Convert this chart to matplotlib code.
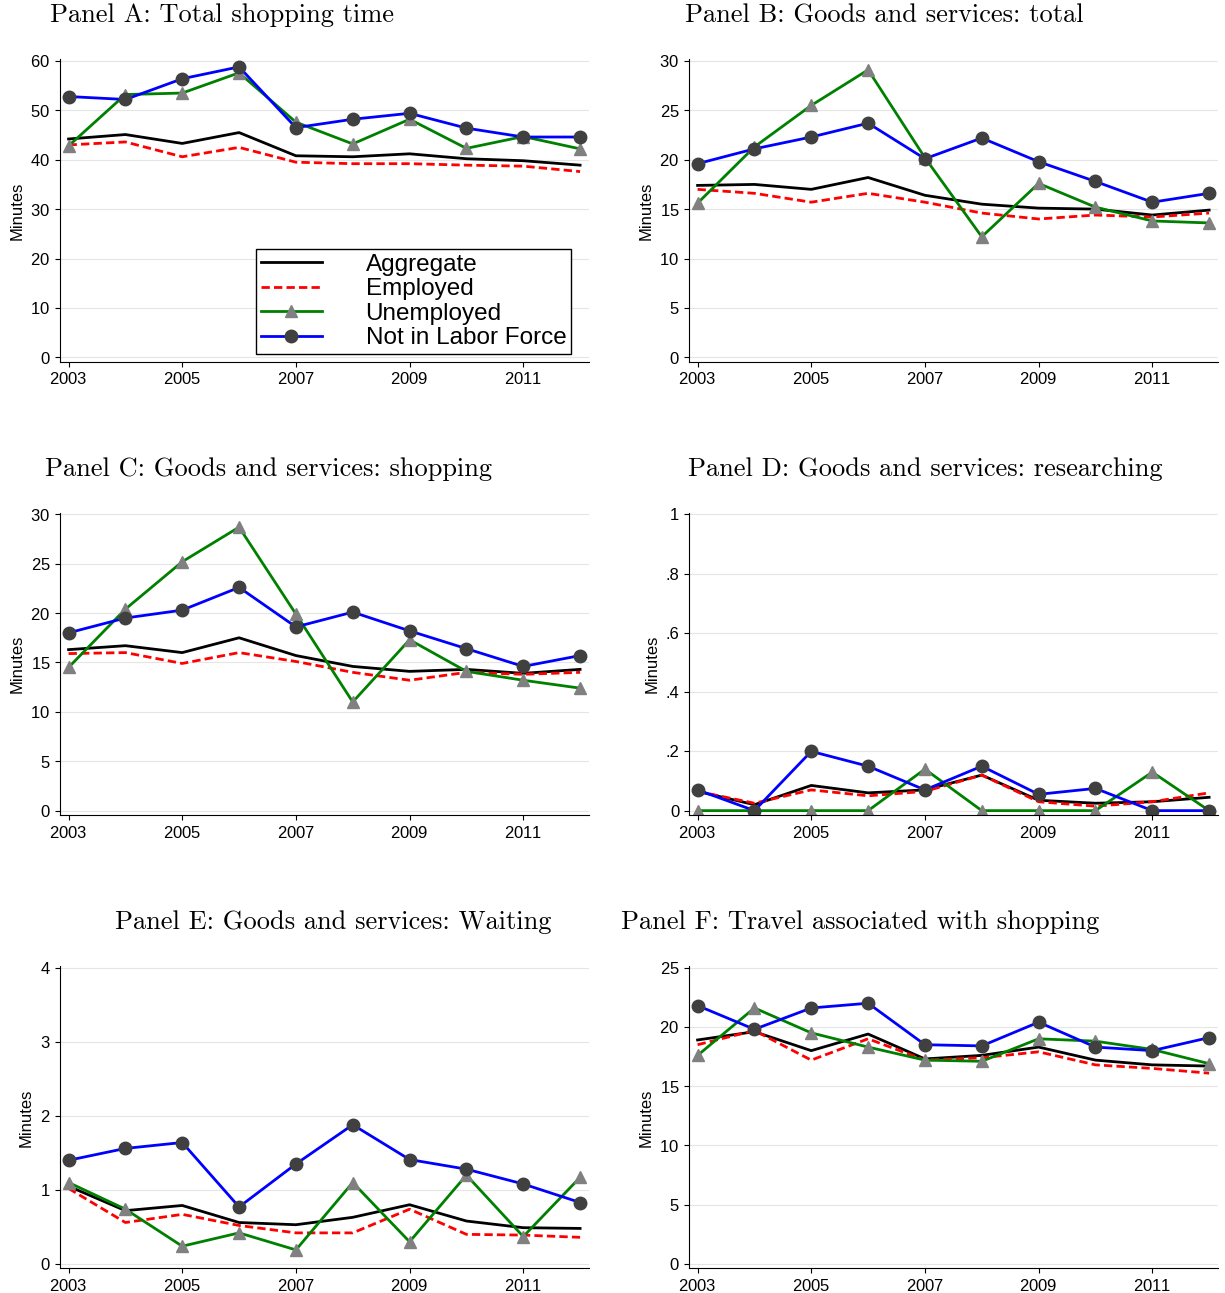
import numpy as np
import matplotlib
matplotlib.use('Agg')
import matplotlib.pyplot as plt
from matplotlib.ticker import FuncFormatter

plt.rcParams['font.family'] = 'Liberation Sans'
plt.rcParams['axes.formatter.use_mathtext'] = True

years = list(range(2003, 2013))

titles = ['Panel A: Total shopping time',
          'Panel B: Goods and services: total',
          'Panel C: Goods and services: shopping',
          'Panel D: Goods and services: researching',
          'Panel E: Goods and services: Waiting',
          'Panel F: Travel associated with shopping']

aggregate = [
    [44.2, 45.1, 43.3, 45.5, 40.8, 40.6, 41.2, 40.2, 39.8, 38.9],
    [17.4, 17.5, 17.0, 18.2, 16.4, 15.5, 15.1, 15.0, 14.4, 14.9],
    [16.3, 16.7, 16.0, 17.5, 15.7, 14.6, 14.1, 14.3, 13.9, 14.3],
    [0.065, 0.02, 0.085, 0.06, 0.07, 0.12, 0.035, 0.025, 0.03, 0.045],
    [1.05, 0.72, 0.79, 0.56, 0.53, 0.63, 0.8, 0.58, 0.49, 0.48],
    [18.9, 19.6, 18.0, 19.4, 17.3, 17.6, 18.3, 17.2, 16.8, 16.7],
]
employed = [
    [43.0, 43.6, 40.6, 42.5, 39.5, 39.2, 39.2, 38.9, 38.7, 37.6],
    [17.0, 16.6, 15.7, 16.6, 15.7, 14.6, 14.0, 14.4, 14.2, 14.6],
    [15.9, 16.0, 14.9, 16.0, 15.1, 14.0, 13.2, 14.0, 13.8, 14.0],
    [0.065, 0.025, 0.07, 0.05, 0.065, 0.12, 0.03, 0.015, 0.03, 0.06],
    [1.02, 0.56, 0.67, 0.52, 0.42, 0.42, 0.74, 0.4, 0.39, 0.36],
    [18.5, 19.7, 17.2, 19.0, 17.2, 17.4, 17.9, 16.8, 16.5, 16.1],
]
unemployed = [
    [42.8, 53.2, 53.5, 57.6, 47.6, 43.2, 48.2, 42.3, 44.7, 42.2],
    [15.6, 21.3, 25.5, 29.1, 20.2, 12.2, 17.6, 15.2, 13.8, 13.6],
    [14.5, 20.4, 25.2, 28.7, 19.9, 11.0, 17.3, 14.1, 13.2, 12.4],
    [0, 0, 0, 0, 0.14, 0, 0, 0, 0.13, 0],
    [1.1, 0.74, 0.24, 0.42, 0.19, 1.1, 0.3, 1.2, 0.37, 1.17],
    [17.6, 21.6, 19.5, 18.3, 17.2, 17.1, 19.0, 18.8, 18.1, 16.9],
]
nilf = [
    [52.8, 52.2, 56.4, 58.8, 46.5, 48.2, 49.4, 46.4, 44.6, 44.6],
    [19.6, 21.1, 22.3, 23.7, 20.1, 22.2, 19.8, 17.8, 15.7, 16.6],
    [18.0, 19.5, 20.3, 22.6, 18.6, 20.1, 18.2, 16.4, 14.6, 15.7],
    [0.07, 0, 0.2, 0.15, 0.07, 0.15, 0.055, 0.075, 0, 0],
    [1.4, 1.56, 1.64, 0.77, 1.35, 1.88, 1.41, 1.28, 1.08, 0.83],
    [21.8, 19.8, 21.6, 22.0, 18.5, 18.4, 20.4, 18.3, 18.0, 19.1],
]
yticks = [range(0, 61, 10), range(0, 31, 5), range(0, 31, 5),
          [0, .2, .4, .6, .8, 1], range(0, 5), range(0, 26, 5)]

# title anchor (x in figure pixels)
title_x = [50, 685, 45, 688, 333, 621]

fig, axs = plt.subplots(3, 2, figsize=(12.25, 12.93), dpi=100)
plt.subplots_adjust(left=0.049, right=0.994, top=0.954, bottom=0.019, hspace=0.5, wspace=0.19)

for i, ax in enumerate(axs.flat):
    ax.plot(years, aggregate[i], color='black', lw=2, label='Aggregate')
    ax.plot(years, employed[i], color='red', lw=2, ls='--', dashes=(3, 1.5), label='Employed')
    ax.plot(years, unemployed[i], color='green', lw=2, marker='^', ms=9,
            mfc='gray', mec='gray', label='Unemployed')
    ax.plot(years, nilf[i], color='blue', lw=2, marker='o', ms=9,
            mfc='#404040', mec='#404040', label='Not in Labor Force')
    top = ax.get_position().y1
    fig.text(title_x[i] / 1225, top + 0.034, titles[i], family='cmr10', fontsize=19,
             ha='center' if i == 4 else 'left', va='center')
    yt = list(yticks[i])
    ax.set_yticks(yt)
    ax.set_ylim(-yt[-1] * 0.015, yt[-1] * 1.005)
    ax.set_xticks([2003, 2005, 2007, 2009, 2011])
    ax.set_xlim(2002.85, 2012.15)
    ax.grid(axis='y', color='#e5e5e5', lw=0.8)
    ax.set_axisbelow(True)
    ax.spines['top'].set_visible(False)
    ax.spines['right'].set_visible(False)
    ax.tick_params(labelsize=12)
    ax.set_ylabel('Minutes', fontsize=12)
    if i == 3:
        ax.yaxis.set_major_formatter(FuncFormatter(
            lambda v, p: '0' if v == 0 else ('1' if v == 1 else ('%.1f' % v)[1:])))
    if i == 0:
        leg = ax.legend(loc='lower right', fontsize=17.5, fancybox=False,
                        edgecolor='black', handlelength=2.5, handletextpad=1.8,
                        borderpad=0.2, labelspacing=0.1, bbox_to_anchor=(0.99, -0.015),
                        framealpha=1)
        leg.get_frame().set_linewidth(1)

plt.savefig('out.png')
